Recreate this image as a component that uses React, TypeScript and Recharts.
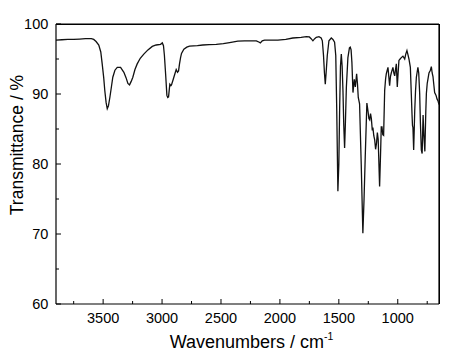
import React from "react";
import { LineChart, Line, XAxis, YAxis, Label, CartesianGrid } from "recharts";

const WAVENUMBERS = [
  3900, 3850, 3800, 3750, 3700, 3650, 3600, 3580, 3560, 3537, 3520, 3508, 3495, 3486, 3475, 3465,
  3455, 3443, 3430, 3418, 3400, 3380, 3352, 3324, 3305, 3290, 3276, 3262, 3248, 3230, 3211, 3185,
  3155, 3120, 3083, 3050, 3013, 2998, 2988, 2980, 2970, 2959, 2952, 2945, 2934, 2925, 2920, 2905,
  2891, 2880, 2869, 2860, 2852, 2843, 2835, 2815, 2790, 2767, 2700, 2654, 2600, 2540, 2480, 2427,
  2357, 2300, 2200, 2175, 2166, 2150, 2130, 2050, 2017, 1950, 1890, 1820, 1776, 1750, 1735, 1720,
  1705, 1691, 1669, 1650, 1640, 1630, 1622, 1615, 1608, 1598, 1584, 1564, 1550, 1536, 1526, 1518,
  1508, 1500, 1493, 1486, 1479, 1472, 1465, 1458, 1451, 1444, 1436, 1423, 1410, 1403, 1396, 1389,
  1380, 1369, 1360, 1349, 1342, 1335, 1324, 1310, 1296, 1286, 1276, 1262, 1252, 1245, 1238, 1231,
  1224, 1216, 1211, 1203, 1196, 1188, 1180, 1173, 1166, 1154, 1145, 1140, 1134, 1127, 1120, 1111,
  1103, 1097, 1083, 1069, 1062, 1055, 1041, 1033, 1026, 1019, 1012, 1004, 997, 990, 980, 970,
  956, 941, 932, 922, 913, 905, 893, 885, 879, 875, 871, 865, 860, 856, 849, 842,
  829, 822, 814, 808, 800, 793, 785, 778, 770, 762, 757, 750, 743, 735, 723, 715,
  708, 701, 695, 687, 675, 667, 658, 650,
];

const TRANSMITTANCE = [
  97.7, 97.75, 97.8, 97.8, 97.85, 97.9, 97.9, 97.8, 97.5, 97.0, 96.0, 94.3, 92.3, 90.5, 88.8, 87.9,
  88.3, 89.5, 91.0, 92.4, 93.4, 93.8, 93.8, 93.1, 92.3, 91.5, 91.3, 91.8, 92.4, 93.5, 94.3, 95.1,
  95.7, 96.3, 96.8, 97.0, 97.1, 97.3, 96.9, 95.5, 92.9, 89.8, 89.5, 89.6, 91.4, 91.2, 91.3, 92.1,
  92.9, 93.5, 93.1, 93.3, 94.3, 95.2, 95.8, 96.4, 96.7, 96.85, 96.9, 97.0, 97.05, 97.1, 97.2, 97.35,
  97.55, 97.6, 97.6, 97.4, 97.3, 97.6, 97.7, 97.7, 97.7, 97.8, 98.0, 98.1, 98.2, 98.15, 97.9, 97.6,
  97.9, 98.1, 98.2, 98.0, 97.6, 95.5, 93.0, 91.4, 93.0, 95.5, 97.6, 98.0, 97.8, 97.4, 95.5, 88.0,
  76.1, 80.0, 88.0, 94.0, 95.7, 94.0, 90.5, 85.5, 82.3, 86.0, 91.0, 95.2, 96.6, 96.7, 96.3, 94.5,
  90.2, 92.1, 91.0, 92.9, 91.5, 89.5, 88.6, 80.0, 70.1, 75.0, 81.0, 88.7, 87.5, 86.5, 86.3, 87.2,
  86.5, 84.8, 85.2, 84.0, 83.5, 82.1, 83.0, 84.5, 83.5, 76.8, 82.0, 85.3, 85.3, 84.2, 84.1, 90.5,
  92.2, 92.9, 93.8, 91.2, 92.5, 93.0, 93.8, 93.0, 92.6, 93.5, 94.3, 91.0, 93.0, 94.8, 95.0, 95.2,
  95.4, 95.0, 95.7, 96.2, 95.6, 95.0, 93.8, 90.0, 87.1, 85.5, 85.2, 82.0, 85.0, 87.6, 90.5, 92.4,
  93.8, 93.0, 90.1, 86.0, 82.0, 81.5, 87.0, 84.0, 81.8, 87.5, 90.1, 91.5, 92.2, 93.0, 93.4, 93.9,
  93.0, 92.5, 91.5, 90.2, 89.8, 89.3, 89.0, 88.5,
];

const X_TICKS = [3750, 3500, 3250, 3000, 2750, 2500, 2250, 2000, 1750, 1500, 1250, 1000, 750];
const Y_TICKS = [60, 65, 70, 75, 80, 85, 90, 95, 100];
const X_DOMAIN = [650, 3900];
const Y_DOMAIN = [60, 100];
const X_TITLE = "Wavenumbers / cm";
const X_TITLE_SUP = "-1";
const Y_TITLE = "Transmittance / %";

const FONT = "'Liberation Sans', Arial, sans-serif";

// layout
const CHART_W = 441;
const CHART_H = 348;
const MARGIN = { top: 16, right: 10, bottom: 0, left: 0 };
const Y_AXIS_W = 48;
const X_AXIS_H = 52;
const PLOT_X = MARGIN.left + Y_AXIS_W;
const PLOT_Y = MARGIN.top;
const PLOT_W = CHART_W - MARGIN.left - MARGIN.right - Y_AXIS_W;
const PLOT_H = CHART_H - MARGIN.top - MARGIN.bottom - X_AXIS_H;

const data = WAVENUMBERS.map((wn, i) => ({ wn, t: TRANSMITTANCE[i] }));

function XTick(props: any) {
  const { x, y, payload } = props;
  const v = payload.value;
  const major = v % 500 === 0;
  return (
    <g>
      <line x1={x} x2={x} y1={y} y2={y - (major ? 5 : 3)} stroke="#000" strokeWidth={1} />
      {major && (
        <text x={x} y={y + 18.7} textAnchor="middle" fontSize={14.5} fontFamily={FONT} fill="#000">
          {v}
        </text>
      )}
    </g>
  );
}

function YTick(props: any) {
  const { x, y, payload } = props;
  const v = payload.value;
  const major = v % 10 === 0;
  return (
    <g>
      <line x1={x} x2={x + (major ? 5 : 3)} y1={y} y2={y} stroke="#000" strokeWidth={1} />
      {major && (
        <text x={x - 7.7} y={y} dy="0.36em" textAnchor="end" fontSize={14.5} fontFamily={FONT} fill="#000">
          {v}
        </text>
      )}
    </g>
  );
}

function XTitle(props: any) {
  const vb = props.viewBox;
  const cx = vb.x + vb.width / 2 + 4;
  const by = vb.y + 44;
  return (
    <text x={cx} y={by} textAnchor="middle" fontSize={18} fontFamily={FONT} fill="#000">
      {X_TITLE}
      <tspan fontSize={10.5} dy={-8}>{X_TITLE_SUP}</tspan>
    </text>
  );
}

function YTitle(props: any) {
  const vb = props.viewBox;
  const cx = 9;
  const cy = vb.y + 121;
  return (
    <text
      x={0}
      y={0}
      transform={`translate(${cx},${cy}) rotate(-90)`}
      textAnchor="middle"
      dominantBaseline="central"
      fontSize={17.5}
      fontFamily={FONT}
      fill="#000"
    >
      {Y_TITLE}
    </text>
  );
}

export default function App() {
  return (
    <div style={{ position: "relative", width: CHART_W, height: CHART_H }}>
      <LineChart width={CHART_W} height={CHART_H} data={data} margin={MARGIN}>
        <CartesianGrid
          xAxisId="main"
          yAxisId="main"
          horizontalValues={[Y_DOMAIN[1]]}
          verticalValues={[X_DOMAIN[0]]}
          stroke="#000"
          strokeWidth={1.2}
          strokeOpacity={1}
        />
        <XAxis
          xAxisId="main"
          dataKey="wn"
          type="number"
          domain={X_DOMAIN}
          reversed
          ticks={X_TICKS}
          interval={0}
          tickSize={0}
          tickMargin={0}
          tickLine={false}
          tick={<XTick />}
          axisLine={{ stroke: "#000", strokeWidth: 1.2 }}
          height={X_AXIS_H}
          allowDataOverflow
        >
          <Label content={<XTitle />} />
        </XAxis>
        <YAxis
          yAxisId="main"
          type="number"
          domain={Y_DOMAIN}
          ticks={Y_TICKS}
          interval={0}
          tickSize={0}
          tickMargin={0}
          tickLine={false}
          tick={<YTick />}
          axisLine={{ stroke: "#000", strokeWidth: 1.2 }}
          width={Y_AXIS_W}
          allowDataOverflow
        >
          <Label content={<YTitle />} />
        </YAxis>
        <Line
          xAxisId="main"
          yAxisId="main"
          dataKey="t"
          type="linear"
          stroke="#111"
          strokeWidth={1.3}
          dot={false}
          isAnimationActive={false}
        />
      </LineChart>
      <div
        style={{
          position: "absolute",
          left: PLOT_X,
          top: PLOT_Y - 0.5,
          width: PLOT_W + 0.5,
          height: PLOT_H + 0.5,
          boxSizing: "border-box",
          borderTop: "1px solid #000",
          borderRight: "1px solid #000",
          pointerEvents: "none",
        }}
      />
    </div>
  );
}
